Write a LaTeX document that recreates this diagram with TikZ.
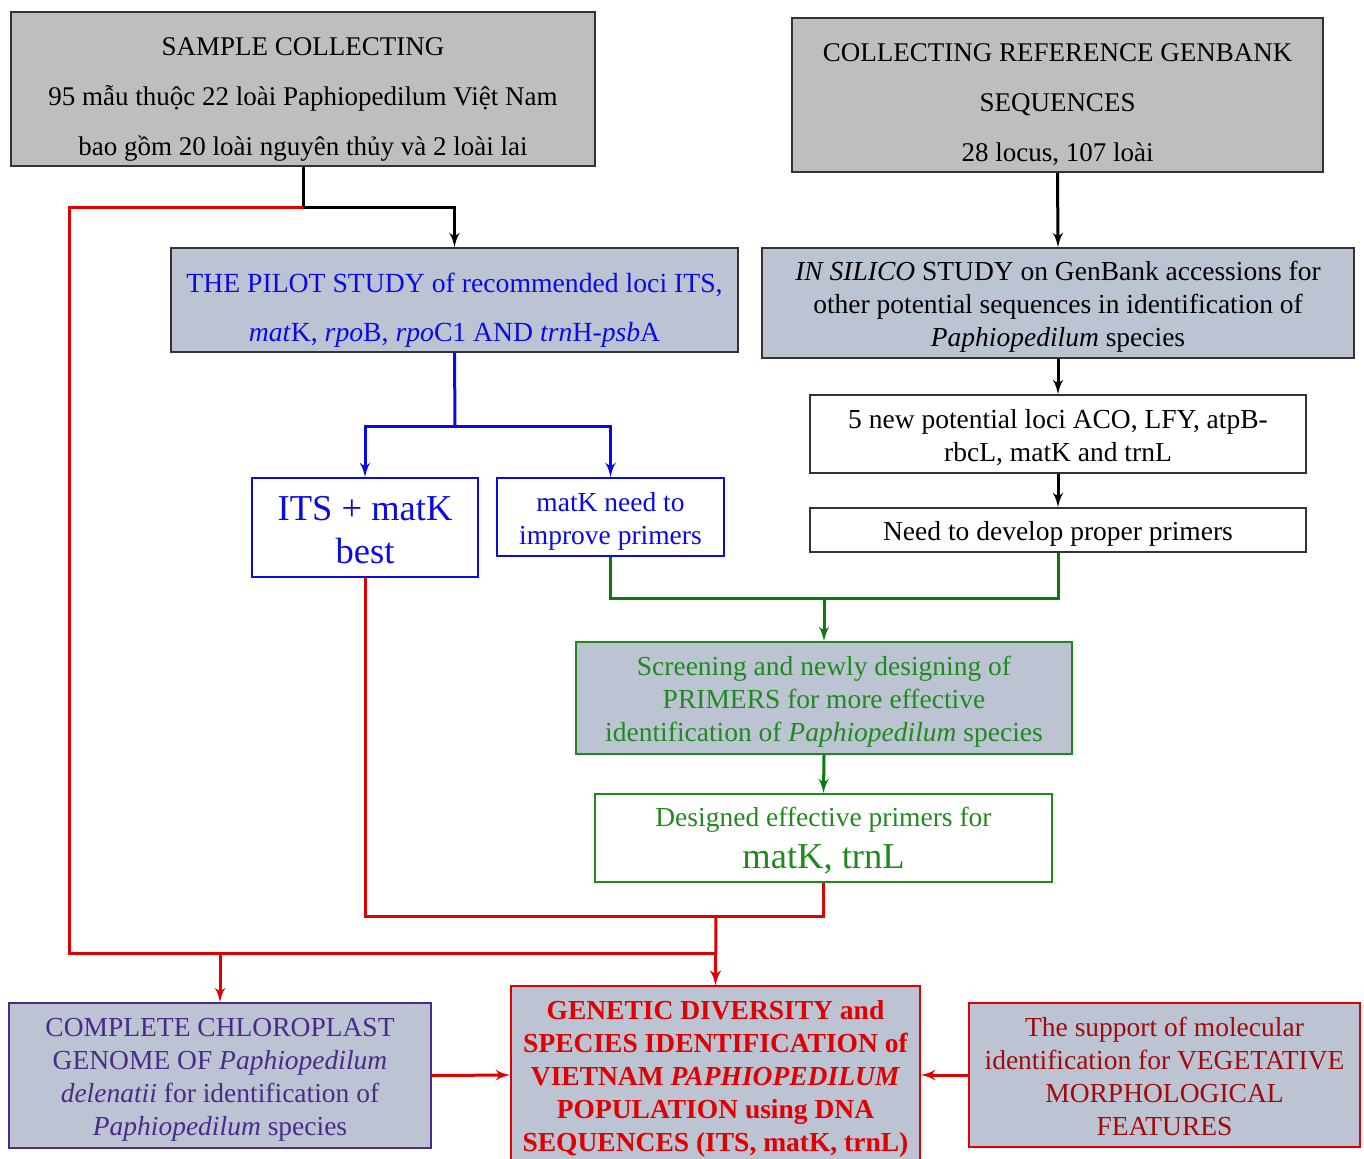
\documentclass[tikz,border=0pt]{standalone}
\usepackage{fontspec}
\setmainfont{Liberation Serif}
\usepackage{tikz}
\usetikzlibrary{arrows}
\usepackage{xcolor}
\definecolor{fgray}{HTML}{BEBEBE}
\definecolor{fslate}{HTML}{BCC4D3}
\definecolor{cblue}{HTML}{0A0AE6}
\definecolor{cgreen}{HTML}{0B7A0B}
\definecolor{tgreen}{HTML}{1E8A1E}
\definecolor{cred}{HTML}{E00000}
\definecolor{cpurple}{HTML}{4A2A8A}
\definecolor{cdred}{HTML}{A00A0A}
\newcommand{\tdrop}[1]{\rule{0pt}{#1}}% descend le texte
\tikzset{
  fbox/.style = {rectangle, align=center, inner sep=0pt, line width=0.8pt,
    font=\fontsize{13.75}{16.5}\selectfont},
  fb_top/.style = {fbox, draw=black!80, fill=fgray,
    font=\fontsize{13.5}{25}\selectfont},% boite grise
  fb_pilot/.style = {fbox, draw=black!80, fill=fslate, text=cblue,
    font=\fontsize{13.85}{24.5}\selectfont},% etude pilote
  fb_slate/.style = {fbox, draw=black!80, fill=fslate},
  fb_white/.style = {fbox, draw=black!80, fill=white},
  fb_blue/.style = {fbox, draw=cblue, text=cblue},
  fb_green/.style = {fbox, draw=tgreen, text=tgreen},
  link/.style = {line width=1.5pt},
  big/.style = {font=\fontsize{18.25}{21.5}\selectfont}
}
\begin{document}
\begin{tikzpicture}[x=0.5pt,y=-0.5pt,>=latex']
\useasboundingbox (0,0) rectangle (1364,1158);
% boites du haut
\node [fb_top, minimum width=292pt, minimum height=77pt] (sample) at (303,89)
  {\tdrop{19pt}SAMPLE COLLECTING\\95 mẫu thuộc 22 loài Paphiopedilum Việt Nam\\bao gồm 20 loài nguyên thủy và 2 loài lai};
\node [fb_top, minimum width=265.5pt, minimum height=77pt] (genbank) at (1057.5,95)
  {\tdrop{19pt}COLLECTING REFERENCE GENBANK\\SEQUENCES\\28 locus, 107 loài};
% branche gauche
\node [fb_pilot, minimum width=283.5pt, minimum height=52pt] (pilot) at (454.5,300)
  {\tdrop{19.5pt}THE PILOT STUDY of recommended loci ITS,\\\textit{mat}K, \textit{rpo}B, \textit{rpo}C1 AND \textit{trn}H-\textit{psb}A};
\node [fb_blue, big, minimum width=113pt, minimum height=49.5pt] (best) at (365,527.5)
  {\tdrop{15pt}ITS + matK\\best};
\node [fb_blue, minimum width=113.5pt, minimum height=39pt] (improve) at (610.5,517)
  {\tdrop{13.5pt}matK need to\\improve primers};
% branche droite
\node [fb_slate, minimum width=296pt, minimum height=55pt] (silico) at (1058,303)
  {\tdrop{13.5pt}\textit{IN SILICO} STUDY on GenBank accessions for\\other potential sequences in identification of\\\textit{Paphiopedilum} species};
\node [fb_white, minimum width=248pt, minimum height=39pt] (loci) at (1058,434)
  {\tdrop{13.5pt}5 new potential loci ACO, LFY, atpB-\\rbcL, matK and trnL};
\node [fb_white, minimum width=248pt, minimum height=22pt] (develop) at (1058,530)
  {\tdrop{13.5pt}Need to develop proper primers};
% amorces
\node [fb_green, fill=fslate, minimum width=248pt, minimum height=56pt] (screen) at (824,698)
  {\tdrop{13.5pt}Screening and newly designing of\\PRIMERS for more effective\\identification of \textit{Paphiopedilum} species};
\node [fb_green, minimum width=228.5pt, minimum height=44pt] (designed) at (823.5,838)
  {\tdrop{12.5pt}Designed effective primers for\\[4.5pt]{\fontsize{18.25}{21.5}\selectfont matK, trnL}};
% boites du bas
\node [fb_slate, draw=cpurple, text=cpurple, minimum width=211pt, minimum height=72.5pt] (genome) at (220,1075.5)
  {\tdrop{13.5pt}COMPLETE CHLOROPLAST\\GENOME OF \textit{Paphiopedilum}\\\textit{delenatii} for identification of\\\textit{Paphiopedilum} species};
\node [fb_slate, draw=cred, text=cred, font=\fontsize{13.75}{16.5}\selectfont\bfseries,
  minimum width=204.5pt, minimum height=89pt] (diversity) at (715.5,1075)
  {\tdrop{13.5pt}GENETIC DIVERSITY and\\SPECIES IDENTIFICATION of\\VIETNAM \textit{PAPHIOPEDILUM}\\POPULATION using DNA\\SEQUENCES (ITS, matK, trnL)};
\node [fb_slate, draw=cred, text=cdred, minimum width=195.5pt, minimum height=72pt] (support) at (1164.5,1075)
  {\tdrop{11pt}The support of molecular\\identification for VEGETATIVE\\MORPHOLOGICAL\\FEATURES};
% points de jonction
\coordinate (j_s) at (303,207);
\coordinate (j_l) at (69,953);
\coordinate (j_b) at (455,426);
\coordinate (j_g) at (824,598);
\coordinate (j_r) at (716,916);
% liens
\draw [link] (sample.south) -- (j_s);
\draw [link,->] (j_s) -| (pilot.north);
\draw [link,cred,->] (j_s) -| (j_l) -| (diversity.north);
\draw [link,cred,->] (genome.north |- j_l) -- (genome.north);
\draw [link,->] (genbank.south) -- (silico.north);
\draw [link,->] (silico.south) -- (loci.north);
\draw [link,->] (loci.south) -- (develop.north);
\draw [link,cblue] (pilot.south) -- (j_b);
\draw [link,cblue,->] (j_b) -| (best.north);
\draw [link,cblue,->] (j_b) -| (improve.north);
\draw [link,cgreen] (improve.south) |- (j_g) -| (develop.south);
\draw [link,cgreen,->] (j_g) -- (screen.north);
\draw [link,cgreen,->] (screen.south) -- (designed.north);
\draw [link,cred] (best.south) |- (j_r) -| (designed.south);
\draw [link,cred,->] (j_r) -- (diversity.north);
\draw [link,cred,->] (genome.east) -- (diversity.west);
\draw [link,cred,->] (support.west) -- (diversity.east);
\end{tikzpicture}
\end{document}
